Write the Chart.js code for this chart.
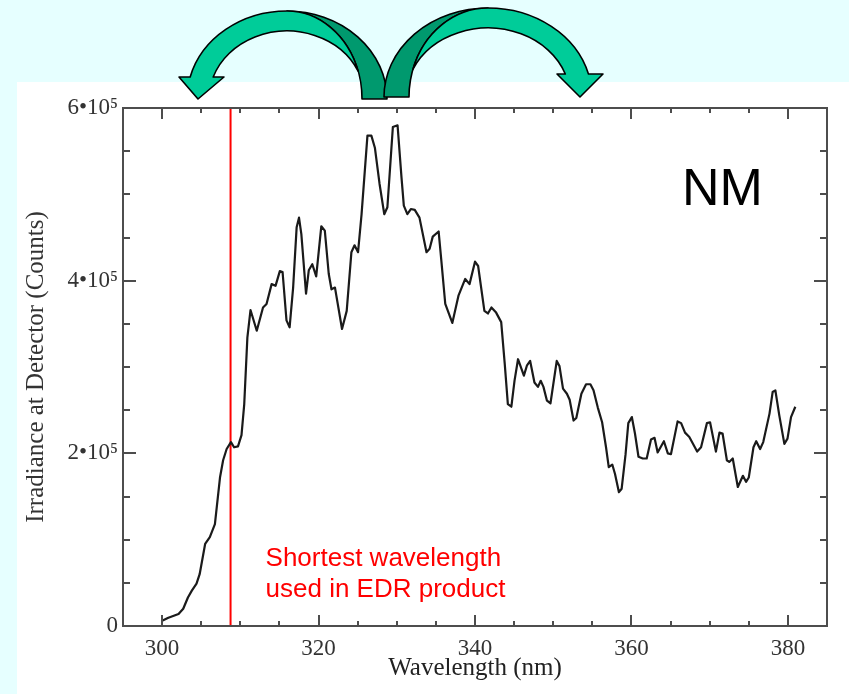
<!DOCTYPE html>
<html>
<head>
<meta charset="utf-8">
<script src="https://cdn.jsdelivr.net/npm/chart.js@4.4.1/dist/chart.umd.min.js"></script>
<style>
  html, body { margin: 0; padding: 0; background: #e6ffff; overflow: hidden; }
  canvas { display: block; }
</style>
</head>
<body>
<canvas id="spectrumChart" width="849" height="694"></canvas>
<script>
// spectrum (nm, detector counts)
const wavelengths = [
  300.0, 300.8, 302.1, 302.7, 303.3, 303.8, 304.4, 304.8, 305.5, 306.1,
  306.75, 307.4, 307.8, 308.25, 308.8, 309.2, 309.7, 310.15, 310.5, 310.9,
  311.3, 312.1, 312.9, 313.35, 314.0, 314.5, 315.05, 315.4, 315.9, 316.3,
  316.75, 317.2, 317.5, 317.8, 318.4, 318.75, 319.2, 319.7, 320.35, 320.8,
  321.3, 321.65, 322.1, 323.0, 323.6, 324.2, 324.6, 325.05, 325.5, 326.25,
  326.75, 327.2, 327.8, 328.4, 328.8, 329.5, 330.1, 330.6, 330.9, 331.35,
  331.8, 332.3, 332.9, 333.8, 334.2, 334.6, 335.35, 335.7, 336.2, 337.1,
  337.9, 338.75, 339.3, 340.0, 340.4, 341.2, 341.65, 342.1, 342.7, 343.35,
  343.8, 344.2, 344.65, 345.05, 345.5, 346.25, 346.65, 347.05, 347.6, 348.05,
  348.4, 348.75, 349.2, 349.65, 350.45, 350.8, 351.25, 351.75, 352.1, 352.6,
  352.95, 353.6, 354.2, 354.75, 355.15, 355.7, 356.25, 356.75, 357.1, 357.55,
  357.9, 358.4, 358.75, 359.25, 359.6, 360.05, 360.45, 360.9, 361.45, 361.95,
  362.5, 362.95, 363.35, 364.15, 364.65, 365.05, 365.9, 366.35, 366.85, 367.4,
  368.4, 368.9, 369.65, 370.05, 370.8, 371.25, 371.65, 372.2, 372.5, 372.95,
  373.6, 374.25, 374.65, 375.0, 375.6, 375.95, 376.45, 376.85, 377.65, 378.05,
  378.4, 378.9, 379.55, 379.95, 380.4, 380.95
];
const counts = [
  6000, 9500, 14000, 20000, 33000, 41000, 49000, 60000, 95000, 103000,
  118000, 172000, 192000, 205000, 213000, 207000, 208000, 221000, 257000, 334000,
  366000, 342000, 369000, 373000, 396000, 394000, 411000, 410000, 354000, 346000,
  392000, 462000, 473000, 454000, 385000, 412000, 419000, 405000, 463000, 458000,
  408000, 390000, 392000, 344000, 365000, 433000, 441000, 433000, 477000, 568000,
  568000, 554000, 512000, 477000, 485000, 578000, 580000, 520000, 487000, 477000,
  483000, 482000, 473000, 433000, 437000, 451000, 457000, 423000, 373000, 351000,
  383000, 402000, 396000, 422000, 417000, 365000, 362000, 369000, 363000, 352000,
  304000, 257000, 254000, 284000, 309000, 290000, 302000, 307000, 282000, 277000,
  284000, 277000, 261000, 258000, 307000, 301000, 275000, 269000, 262000, 238000,
  241000, 269000, 280000, 280000, 273000, 253000, 236000, 207000, 184000, 187000,
  176000, 155000, 159000, 199000, 235000, 242000, 223000, 196000, 194000, 194000,
  216000, 218000, 201000, 214000, 200000, 199000, 237000, 235000, 224000, 219000,
  202000, 207000, 235000, 236000, 202000, 224000, 223000, 192000, 190000, 194000,
  161000, 174000, 167000, 172000, 207000, 214000, 205000, 213000, 246000, 271000,
  273000, 244000, 211000, 217000, 242000, 254000
];

// red marker for the EDR cut-off
const edrWavelength = [308.75, 308.75];
const edrSpan = [0, 600000];

const xTickValues = [300, 320, 340, 360, 380];
const yTickValues = [0, 200000, 400000, 600000];
const yTickLabels = ['0', '2•10⁵', '4•10⁵', '6•10⁵'];
const xTitle = 'Wavelength (nm)';
const yTitle = 'Irradiance at Detector (Counts)';
const noteLines = ['Shortest wavelength', 'used in EDR product'];
const modeLabel = 'NM';

const serif = '"Liberation Serif", "Times New Roman", serif';
const sans = '"Liberation Sans", Arial, sans-serif';

// slide background: cyan page with the white picture pasted on it
const slideBg = {
  id: 'slideBg',
  beforeDraw(chart) {
    const ctx = chart.ctx;
    ctx.save();
    ctx.fillStyle = '#e6ffff';
    ctx.fillRect(0, 0, chart.width, chart.height);
    ctx.fillStyle = '#ffffff';
    ctx.fillRect(17, 82, chart.width - 17, chart.height - 82);
    ctx.restore();
  }
};

// boxed frame with inward ticks on all four sides
const frameTicks = {
  id: 'frameTicks',
  afterDatasetsDraw(chart) {
    const { ctx, chartArea: a, scales: { x, y } } = chart;
    ctx.save();
    ctx.strokeStyle = '#4d4d4d';
    ctx.lineWidth = 2;
    ctx.strokeRect(a.left, a.top, a.right - a.left, a.bottom - a.top);
    ctx.beginPath();
    for (let v = 300; v <= 380; v += 5) {
      const px = Math.round(x.getPixelForValue(v));
      const len = v % 20 === 0 ? 11 : 5;
      ctx.moveTo(px, a.bottom); ctx.lineTo(px, a.bottom - len);
      ctx.moveTo(px, a.top); ctx.lineTo(px, a.top + len);
    }
    for (let v = 50000; v < 600000; v += 50000) {
      const py = Math.round(y.getPixelForValue(v));
      const len = v % 200000 === 0 ? 13 : 7;
      ctx.moveTo(a.left, py); ctx.lineTo(a.left + len, py);
      ctx.moveTo(a.right, py); ctx.lineTo(a.right - len, py);
    }
    ctx.stroke();
    ctx.restore();
  }
};

// twisted ribbon arrow; local frame has the head on the left
function ribbonArrow(ctx, p) {
  const H = Math.PI / 2;
  const A = 1 / (p.rT * p.rT), B = 1 / (p.hO * p.hO);
  const C = 1 / (p.rI * p.rI), D = 1 / (p.hI * p.hI);
  const det = A * D - B * C;
  const ix = Math.sqrt((D - B) / det), iy = -Math.sqrt((A - C) / det);
  const tT = Math.atan2(iy / p.hO, ix / p.rT);
  const tI = Math.atan2(iy / p.hI, ix / p.rI);
  const tO0 = Math.atan2(p.headY / p.hO, -Math.sqrt(1 - (p.headY / p.hO) ** 2));
  const tI0 = Math.atan2(p.headY / p.hI, -Math.sqrt(1 - (p.headY / p.hI) ** 2));

  ctx.save();
  ctx.translate(p.cx, p.cy);
  if (p.flip) ctx.scale(-1, 1);
  ctx.lineWidth = 1.6;
  ctx.strokeStyle = '#000000';
  ctx.lineJoin = 'round';

  // back side of the ribbon
  ctx.beginPath();
  ctx.ellipse(0, 0, p.rO, p.hO, 0, -H, 0);
  ctx.lineTo(p.rT, 0);
  ctx.ellipse(0, 0, p.rT, p.hO, 0, 0, -H, true);
  ctx.closePath();
  ctx.fillStyle = '#00996e';
  ctx.fill();
  ctx.stroke();

  // front face with the head
  ctx.beginPath();
  ctx.ellipse(0, 0, p.rO, p.hO, 0, tO0, -H);
  ctx.ellipse(0, 0, p.rT, p.hO, 0, -H, tT);
  ctx.ellipse(0, 0, p.rI, p.hI, 0, tI, tI0, true);
  ctx.lineTo(p.barbIn, p.headY);
  ctx.lineTo(p.tipX, p.tipY);
  ctx.lineTo(p.barbOut, p.headY);
  ctx.closePath();
  ctx.fillStyle = '#00cc99';
  ctx.fill();
  ctx.stroke();
  ctx.restore();
}

const annotations = {
  id: 'annotations',
  afterDraw(chart) {
    const { ctx, scales: { x } } = chart;
    ctx.save();
    ctx.fillStyle = '#ff0000';
    ctx.font = '26px ' + sans;
    ctx.textBaseline = 'alphabetic';
    const nx = x.getPixelForValue(edrWavelength[0]) + 35;
    ctx.fillText(noteLines[0], nx, 566);
    ctx.fillText(noteLines[1], nx, 597);
    ctx.fillStyle = '#000000';
    ctx.font = '52px ' + sans;
    ctx.fillText(modeLabel, 682, 205);
    ctx.restore();

    ribbonArrow(ctx, { cx: 287, cy: 99, rO: 100, hO: 88, rT: 75, rI: 78, hI: 68,
      headY: -22, barbOut: -108, barbIn: -63, tipX: -89, tipY: 0, flip: false });
    ribbonArrow(ctx, { cx: 488, cy: 97, rO: 104, hO: 89, rT: 79, rI: 82, hI: 69,
      headY: -23, barbOut: -115, barbIn: -69, tipX: -92, tipY: 0, flip: true });
  }
};

const ctx = document.getElementById('spectrumChart').getContext('2d');
new Chart(ctx, {
  type: 'line',
  data: {
    datasets: [
      {
        data: wavelengths.map((w, i) => ({ x: w, y: counts[i] })),
        borderColor: '#1a1a1a',
        borderWidth: 2.2,
        borderJoinStyle: 'round',
        pointRadius: 0,
        tension: 0,
        fill: false
      },
      {
        data: edrWavelength.map((w, i) => ({ x: w, y: edrSpan[i] })),
        borderColor: '#ff0000',
        borderWidth: 2,
        pointRadius: 0,
        fill: false
      }
    ]
  },
  options: {
    responsive: false,
    animation: false,
    devicePixelRatio: 1,
    layout: { padding: { left: 0, top: 108, right: 22, bottom: 0 } },
    plugins: { legend: { display: false }, tooltip: { enabled: false } },
    scales: {
      x: {
        type: 'linear',
        min: 295, max: 385,
        grid: { display: false, drawTicks: false },
        border: { display: false },
        afterBuildTicks: s => { s.ticks = xTickValues.map(v => ({ value: v })); },
        afterFit: s => { s.height = 68; },
        ticks: { color: '#333333', font: { family: serif, size: 23 }, padding: 9, maxRotation: 0 },
        title: { display: true, text: xTitle, color: '#222222', font: { family: serif, size: 25 }, padding: { top: 0, bottom: 11 } }
      },
      y: {
        type: 'linear',
        min: 0, max: 600000,
        grid: { display: false, drawTicks: false },
        border: { display: false },
        afterBuildTicks: s => { s.ticks = yTickValues.map(v => ({ value: v })); },
        afterFit: s => { s.width = 123; },
        ticks: {
          color: '#333333', font: { family: serif, size: 23 }, padding: 5,
          callback: v => yTickLabels[yTickValues.indexOf(v)]
        },
        title: { display: true, text: yTitle, color: '#333333', font: { family: serif, size: 25 }, padding: { top: 21, bottom: 0 } }
      }
    }
  },
  plugins: [slideBg, frameTicks, annotations]
});
</script>
</body>
</html>
